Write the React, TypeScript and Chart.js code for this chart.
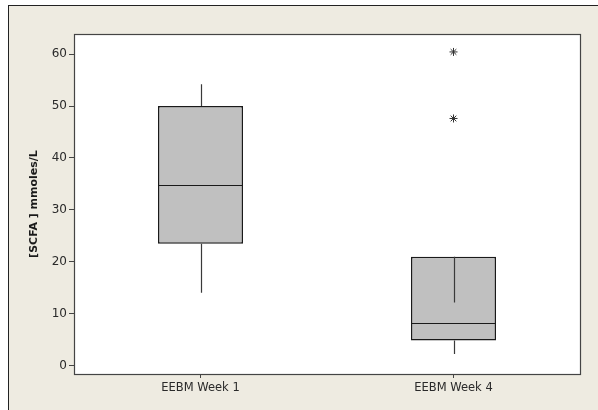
import React, { useEffect, useRef } from "react";
import { Chart, registerables } from "chart.js";

Chart.register(...registerables);

const categories = ["EEBM Week 1", "EEBM Week 4"];
const q1 = [23.5, 4.9];
const q3 = [50, 21.0];
const medians = [34.8, 8.2];
const whiskerLow = [14.1, 2.3];
const whiskerHigh = [54.2, 12.2];
const outlierCategory = ["EEBM Week 4", "EEBM Week 4"];
const outlierValues = [60.4, 47.6];
const yTitle = "[SCFA ] mmoles/L";
const yMin = -1.55;
const yMax = 63.85;

const boxPlugin = {
  id: "boxExtras",
  beforeDatasetsDraw(chart: any) {
    const { ctx, chartArea } = chart;
    ctx.save();
    ctx.fillStyle = "#ffffff";
    ctx.fillRect(chartArea.left, chartArea.top, chartArea.right - chartArea.left, chartArea.bottom - chartArea.top);
    ctx.restore();
  },
  afterDatasetsDraw(chart: any) {
    const { ctx, chartArea } = chart;
    const xs = chart.scales.x;
    const ys = chart.scales.y;
    const meta = chart.getDatasetMeta(0);
    ctx.save();
    categories.forEach((_, i) => {
      const bar = meta.data[i];
      const cx = Math.round(xs.getPixelForValue(i)) + 0.5;
      const half = bar.width / 2;
      ctx.strokeStyle = "#3a3a3a";
      ctx.lineWidth = 1.2;
      ctx.beginPath();
      ctx.moveTo(cx, ys.getPixelForValue(q3[i]));
      ctx.lineTo(cx, ys.getPixelForValue(whiskerHigh[i]));
      ctx.moveTo(cx, ys.getPixelForValue(q1[i]));
      ctx.lineTo(cx, ys.getPixelForValue(whiskerLow[i]));
      ctx.stroke();
      ctx.strokeStyle = "#1a1a1a";
      ctx.lineWidth = 1.2;
      ctx.beginPath();
      const my = Math.round(ys.getPixelForValue(medians[i])) + 0.5;
      ctx.moveTo(bar.x - half, my);
      ctx.lineTo(bar.x + half, my);
      ctx.stroke();
    });
    ctx.strokeStyle = "#444";
    ctx.lineWidth = 1.2;
    ctx.strokeRect(
      Math.round(chartArea.left) + 0.5,
      Math.round(chartArea.top) + 0.5,
      Math.round(chartArea.right - chartArea.left),
      Math.round(chartArea.bottom - chartArea.top)
    );
    ctx.restore();
  },
};

export default function App() {
  const ref = useRef<HTMLCanvasElement>(null);
  useEffect(() => {
    if (!ref.current) return;
    const chart = new Chart(ref.current, {
      type: "bar",
      data: {
        labels: categories,
        datasets: [
          {
            type: "bar",
            data: categories.map((_, i) => [q1[i], q3[i]]) as any,
            backgroundColor: "#C0C0C0",
            borderColor: "#1a1a1a",
            borderWidth: 1.5,
            borderSkipped: false,
            barPercentage: 0.336,
            categoryPercentage: 1,
          },
          {
            type: "line",
            data: outlierValues.map((v, i) => ({ x: outlierCategory[i], y: v })) as any,
            showLine: false,
            pointStyle: "star",
            pointRadius: 4,
            pointBorderWidth: 1,
            pointBorderColor: "#333",
            pointBackgroundColor: "#333",
          },
        ],
      },
      options: {
        animation: false,
        responsive: false,
        layout: { padding: { left: 0, top: 28, right: 18, bottom: 0 } },
        plugins: { legend: { display: false }, tooltip: { enabled: false } },
        scales: {
          x: {
            type: "category",
            offset: true,
            border: { display: false },
            grid: { drawOnChartArea: false, drawTicks: true, tickLength: 4, color: "#444", offset: false },
            ticks: { color: "#2a2a2a", font: { family: "DejaVu Sans", size: 11.5 }, padding: 3 },
            afterFit: (s: any) => {
              s.height = 36;
            },
          },
          y: {
            min: yMin,
            max: yMax,
            border: { display: false },
            grid: { drawOnChartArea: false, drawTicks: true, tickLength: 5, color: "#444" },
            ticks: {
              stepSize: 10,
              includeBounds: false,
              color: "#2a2a2a",
              font: { family: "DejaVu Sans", size: 12 },
              padding: 2,
            },
            title: {
              display: true,
              text: yTitle,
              color: "#1a1a1a",
              font: { family: "DejaVu Sans", size: 11, weight: "bold" },
              padding: { top: 19, bottom: 0 },
            },
            afterFit: (s: any) => {
              s.width = 65;
            },
          },
        },
      },
      plugins: [boxPlugin],
    });
    return () => chart.destroy();
  }, []);
  return (
    <div
      style={{
        position: "fixed",
        left: 8,
        top: 5,
        width: 590,
        height: 405,
        background: "#EEEBE1",
        borderTop: "1px solid #222",
        borderLeft: "1px solid #222",
        boxSizing: "border-box",
      }}
    >
      <canvas ref={ref} width={589} height={404} style={{ display: "block" }} />
    </div>
  );
}
